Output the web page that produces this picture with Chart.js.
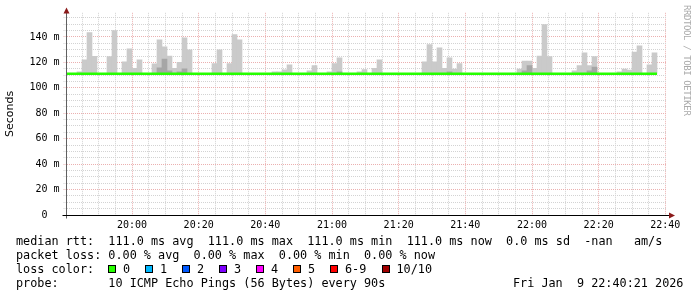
<!DOCTYPE html>
<html><head><meta charset="utf-8">
<script src="https://cdn.jsdelivr.net/npm/chart.js@4.4.1/dist/chart.umd.min.js"></script>
<style>
html,body{margin:0;padding:0;background:#fff;}
#wrap{position:relative;width:697px;height:297px;overflow:hidden;background:#fff;}
#chartBox{position:absolute;left:0;top:0;width:697px;height:297px;}
.txt{position:absolute;left:16px;font-family:'DejaVu Sans Mono',monospace;font-size:11.8px;line-height:14px;white-space:pre;color:#000;}
.box{position:absolute;width:6px;height:6px;border:1px solid #000;}
.lbl{position:absolute;font-family:'DejaVu Sans Mono',monospace;font-size:11.8px;line-height:14px;white-space:pre;color:#000;}
#wm{position:absolute;left:682px;top:5px;writing-mode:vertical-rl;font-family:'DejaVu Sans Mono',monospace;font-size:9px;letter-spacing:-0.4px;color:#aaaaaa;white-space:pre;}
</style></head>
<body>
<div id="wrap">
  <div id="chartBox"><canvas id="c"></canvas></div>
  <div id="wm">RRDTOOL / TOBI OETIKER</div>
  <div class="txt" id="l1" style="top:234px"></div>
  <div class="txt" id="l2" style="top:248px"></div>
  <div class="txt" id="l3" style="top:262px">loss color:</div>
  <div class="txt" id="l4" style="top:276px"></div>
  <div class="lbl" id="date" style="left:513px;top:276px"></div>
</div>
<script>
// ---- tick labels ----
const xTickLabels = ['20:00','20:20','20:40','21:00','21:20','21:40','22:00','22:20','22:40'];
const yTickLabels = ['0  ','20 m','40 m','60 m','80 m','100 m','120 m','140 m'];

// ---- time base: minutes after 19:40:00, one step = 90 s ----
const firstStepMinute = 0.5;   // 19:40:30
const stepMinutes = 1.5;

// ---- median rtt per 90 s step (ms) ----
const medianRtt = [
  111,111,111,111,111,111,111,111,111,111,
  111,111,111,111,111,111,111,111,111,111,
  111,111,111,111,111,111,111,111,111,111,
  111,111,111,111,111,111,111,111,111,111,
  111,111,111,111,111,111,111,111,111,111,
  111,111,111,111,111,111,111,111,111,111,
  111,111,111,111,111,111,111,111,111,111,
  111,111,111,111,111,111,111,111,111,111,
  111,111,111,111,111,111,111,111,111,111,
  111,111,111,111,111,111,111,111,111,111,
  111,111,111,111,111,111,111,111,111,111,
  111,111,111,111,111,111,111,111
];

// ---- smoke: highest ping per step (outer band, ms) ----
const smokeOuter = [
  null,null,112.5,122,143.4,124.8,null,null,124.6,145,
  null,120.4,130.6,115.4,122,null,null,118.8,137.7,132.2,
  125,115.4,120,139.3,129.8,null,null,null,null,119,
  129.8,null,119,141.9,137.7,null,null,null,null,null,
  null,112.5,112.5,114.1,118,null,null,null,113.3,117.5,
  null,null,112.5,119,123.5,null,null,null,112.5,114.4,
  null,115.4,122,null,null,null,null,null,null,null,
  null,120.4,134,120.4,131.4,115.4,123.5,114.7,119,null,
  null,null,null,null,null,null,null,null,null,null,
  114.7,121.1,121.1,115.4,125,149.8,124.6,null,null,null,
  null,113.3,117.5,127.5,117.5,124.6,null,null,null,null,
  112.5,114.7,114,128.2,133,null,118,127.5
];

// ---- smoke: inner (darker) band top per step (ms) ----
const smokeInner = [
  null,null,null,null,null,null,null,null,null,null,
  null,null,null,null,null,null,null,null,115.7,122.7,
  113.3,null,112.5,114.9,null,null,null,null,null,null,
  null,null,null,null,null,null,null,null,null,null,
  null,null,null,null,null,null,null,null,null,null,
  null,null,null,null,112.5,null,null,null,null,null,
  null,null,null,null,null,null,null,null,null,null,
  null,null,null,null,null,null,112.5,null,null,null,
  null,null,null,null,null,null,null,null,null,null,
  null,113.3,117.5,null,null,null,null,null,null,null,
  null,null,null,null,113.3,116.4,null,null,null,null,
  null,null,null,null,null,null,null,null
];

// ---- legend / stats ----
const rttStats = ['111.0','111.0','111.0','111.0','0.0','-nan'];
const lossStats = ['0.00','0.00','0.00','0.00'];
const lossLabels = ['0','1','2','3','4','5','6-9','10/10'];
const lossColors = ['#26ff00','#00b8ff','#0059ff','#7e00ff','#ff00ff','#ff5e00','#ff0000','#a10000'];
const probeText = '10 ICMP Echo Pings (56 Bytes) every 90s';
const dateText = 'Fri Jan  9 22:40:21 2026';

// ---- text ----
document.getElementById('l1').textContent =
  'median rtt:  ' + rttStats[0] + ' ms avg  ' + rttStats[1] + ' ms max  ' + rttStats[2] +
  ' ms min  ' + rttStats[3] + ' ms now  ' + rttStats[4] + ' ms sd  ' + rttStats[5] + '   am/s';
document.getElementById('l2').textContent =
  'packet loss: ' + lossStats[0] + ' % avg  ' + lossStats[1] + ' % max  ' + lossStats[2] +
  ' % min  ' + lossStats[3] + ' % now';
document.getElementById('l4').textContent = 'probe:       ' + probeText;
document.getElementById('date').textContent = dateText;
(function(){
  const wrap = document.getElementById('wrap');
  const boxX = [108,145,182,219,256,293,330,381.5];
  lossLabels.forEach((t,i)=>{
    const b = document.createElement('div');
    b.className='box'; b.style.left = boxX[i]+'px'; b.style.top='265px'; b.style.background=lossColors[i];
    wrap.appendChild(b);
    const l = document.createElement('div');
    l.className='lbl'; l.style.left=(boxX[i]+15)+'px'; l.style.top='262px'; l.textContent=t;
    wrap.appendChild(l);
  });
})();

// ---- datasets ----
const stepCenter = j => firstStepMinute + stepMinutes*j + stepMinutes/2;
const stepEdge = j => firstStepMinute + stepMinutes*j;
const outerData = [], innerData = [], lineData = [];
smokeOuter.forEach((v,j)=>{ if(v!==null) outerData.push({x:stepCenter(j), y:[medianRtt[j], v]}); });
smokeInner.forEach((v,j)=>{ if(v!==null) innerData.push({x:stepCenter(j), y:[medianRtt[j], v]}); });
medianRtt.forEach((v,j)=>{ lineData.push({x:stepEdge(j), y:v}); });
lineData.push({x:stepEdge(medianRtt.length), y:medianRtt[medianRtt.length-1]});

const MINOR = '#d3d3d3', MAJOR = '#ebb0b0';
const xTickValues = []; for (let m=5; m<=180; m+=5) xTickValues.push(m);
const yTickValues = []; for (let v=0; v<=155; v+=5) yTickValues.push(v);

const axisPlugin = {
  id:'rrdAxes',
  afterDraw(chart){
    const {ctx, chartArea:a} = chart;
    const y0 = Math.floor(chart.scales.y.getPixelForValue(0)) + 0.5;
    const xl = Math.round(a.left) - 0.5;
    ctx.save();
    ctx.lineWidth = 1;
    ctx.strokeStyle = '#606060';
    ctx.beginPath(); ctx.moveTo(xl, y0+3); ctx.lineTo(xl, a.top-1); ctx.stroke();
    ctx.strokeStyle = '#000';
    ctx.beginPath(); ctx.moveTo(xl-4, y0); ctx.lineTo(a.right+3, y0); ctx.stroke();
    ctx.fillStyle = '#8b1a1a';
    ctx.beginPath(); ctx.moveTo(xl-3, a.top+0.7); ctx.lineTo(xl+3, a.top+0.7); ctx.lineTo(xl, a.top-5.3); ctx.closePath(); ctx.fill();
    const xr = a.right + 2.5;
    ctx.beginPath(); ctx.moveTo(xr, y0-3); ctx.lineTo(xr, y0+3); ctx.lineTo(xr+6, y0); ctx.closePath(); ctx.fill();
    ctx.restore();
  }
};

new Chart(document.getElementById('c'), {
  type:'bar',
  data:{ datasets:[
    {type:'line', data:lineData, borderColor:lossColors[0], borderWidth:2.5, pointRadius:0, stepped:true, fill:false, order:0},
    {type:'bar', data:innerData, backgroundColor:'#a6a6a6', borderWidth:0, grouped:false, barPercentage:1, categoryPercentage:1, order:1},
    {type:'bar', data:outerData, backgroundColor:'#cacaca', borderWidth:0, grouped:false, barPercentage:1, categoryPercentage:1, order:2}
  ]},
  options:{
    responsive:true, maintainAspectRatio:false, animation:false, devicePixelRatio:1,
    layout:{padding:{left:0, right:30.5, top:12.8, bottom:62}},
    plugins:{legend:{display:false}, tooltip:{enabled:false}},
    scales:{
      x:{
        type:'linear', min:0.35, max:180.35, offset:false,
        afterBuildTicks: s => { s.ticks = xTickValues.map(v=>({value:v})); },
        afterFit: s => { s.height = 20; },
        grid:{offset:false, drawTicks:false, lineWidth:1, color: c => (c.tick && c.tick.value % 20 === 0) ? MAJOR : MINOR},
        border:{display:false, dash:[1,1]},
        ticks:{autoSkip:false, maxRotation:0, minRotation:0, padding:4, color:'#000',
          font:{family:'DejaVu Sans Mono', size:10},
          callback: v => (v % 20 === 0) ? xTickLabels[v/20 - 1] : ''}
      },
      y:{
        min:0, max:159,
        afterBuildTicks: s => { s.ticks = yTickValues.map(v=>({value:v})); },
        afterFit: s => { s.width = 66.5; },
        grid:{lineWidth:1, tickLength:3, tickBorderDash:[1,1],
          color: c => (c.tick && c.tick.value === 0) ? 'rgba(0,0,0,0)' : ((c.tick && c.tick.value % 20 === 0) ? MAJOR : MINOR),
          tickColor: c => (c.tick && c.tick.value % 20 === 0) ? MAJOR : MINOR},
        border:{display:false, dash:[1,1]},
        ticks:{autoSkip:false, padding:4, color:'#000', font:{family:'DejaVu Sans Mono', size:10},
          callback: v => (v % 20 === 0) ? yTickLabels[v/20] : ''},
        title:{display:true, text:'Seconds', color:'#000', font:{family:'DejaVu Sans', size:11}, padding:{top:4, bottom:0}}
      }
    }
  },
  plugins:[axisPlugin]
});
</script>
</body></html>
